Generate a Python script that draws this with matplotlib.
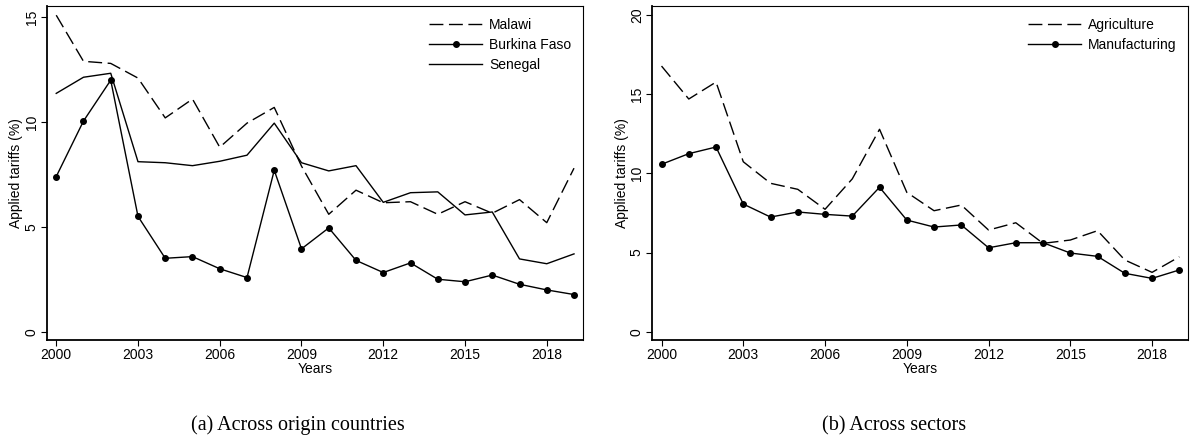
#!/usr/bin/env python3
"""Applied tariffs over time, by origin country and by sector"""
import numpy as np
import matplotlib.pyplot as plt

plt.rcParams['font.family'] = ['Liberation Sans', 'DejaVu Sans']

years = np.arange(2000, 2020)

malawi = [15.1, 12.9, 12.8, 12.1, 10.2, 11.1, 8.8, 9.95, 10.7, 7.9,
          5.6, 6.75, 6.15, 6.2, 5.6, 6.2, 5.65, 6.3, 5.2, 7.8]
burkina = [7.4, 10.05, 12.0, 5.5, 3.5, 3.58, 3.0, 2.58, 7.7, 3.95,
           4.95, 3.4, 2.82, 3.28, 2.5, 2.38, 2.7, 2.26, 1.99, 1.77]
senegal = [11.37, 12.14, 12.33, 8.11, 8.06, 7.92, 8.13, 8.42, 9.95, 8.06,
           7.67, 7.92, 6.17, 6.63, 6.67, 5.57, 5.71, 3.47, 3.24, 3.71]

agriculture = [16.77, 14.69, 15.76, 10.73, 9.37, 8.99, 7.73, 9.65, 12.78, 8.8,
               7.64, 8.0, 6.42, 6.88, 5.58, 5.79, 6.38, 4.53, 3.75, 4.73]
manufacturing = [10.57, 11.24, 11.66, 8.06, 7.24, 7.56, 7.41, 7.3, 9.12, 7.05,
                 6.61, 6.74, 5.3, 5.62, 5.62, 4.97, 4.76, 3.69, 3.37, 3.9]

xticks = [2000, 2003, 2006, 2009, 2012, 2015, 2018]
captions = ['(a) Across origin countries', '(b) Across sectors']

DASH = (0, (10, 4))


def style_axis(ax, yticks, ylim):
    """Stata-like axis look"""
    ax.set_xlim(1999.66, 2019.33)
    ax.set_ylim(*ylim)
    ax.set_xticks(xticks)
    ax.set_yticks(yticks)
    ax.tick_params(direction='out', length=4, width=0.8, labelsize=10,
                   color='black', pad=2)
    for lbl in ax.get_yticklabels():
        lbl.set_rotation(90)
        lbl.set_va('center')
    for side in ['left', 'bottom']:
        ax.spines[side].set_linewidth(1.3)
    for side in ['top', 'right']:
        ax.spines[side].set_linewidth(0.8)
    ax.set_xlabel('Years', fontsize=10, labelpad=0)
    ax.set_ylabel('Applied tariffs (%)', fontsize=10, labelpad=1)
    ax.legend(loc='upper right', frameon=False, fontsize=10,
              handlelength=3.8, labelspacing=0.45, borderaxespad=0.45,
              handletextpad=0.5)


fig = plt.figure(figsize=(11.92, 4.41), dpi=100)
ax1 = fig.add_axes([0.0394, 0.229, 0.4497, 0.7574])
ax2 = fig.add_axes([0.5472, 0.229, 0.4497, 0.7574])

ax1.plot(years, malawi, color='black', lw=1.0, ls=DASH, label='Malawi')
ax1.plot(years, burkina, color='black', lw=1.0, marker='o', ms=4.0,
         label='Burkina Faso')
ax1.plot(years, senegal, color='black', lw=1.0, label='Senegal')
style_axis(ax1, [0, 5, 10, 15], (-0.4, 15.54))

ax2.plot(years, agriculture, color='black', lw=1.0, ls=DASH,
         label='Agriculture')
ax2.plot(years, manufacturing, color='black', lw=1.0, marker='o', ms=4.0,
         label='Manufacturing')
style_axis(ax2, [0, 5, 10, 15, 20], (-0.52, 20.56))

for xc, text in zip([0.25, 0.75], captions):
    fig.text(xc, 0.035, text, ha='center', va='center', fontsize=14.5,
             family=['Liberation Serif', 'DejaVu Serif'])

fig.savefig('out.png', dpi=100)
